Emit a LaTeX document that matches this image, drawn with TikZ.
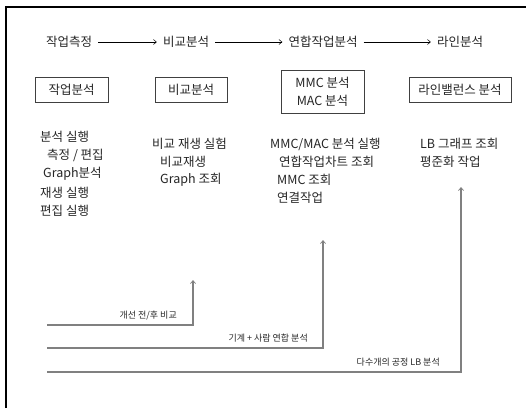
\documentclass[tikz,border=0pt]{standalone}
\usepackage{fontspec}
\setmainfont{Noto Sans CJK KR}
\usetikzlibrary{arrows.meta}
\begin{document}
\begin{tikzpicture}[x=1pt,y=-1pt,
  every node/.style={font=\fontsize{12.5}{15}\selectfont, inner sep=0pt, text=black!85},
  hdr/.style={anchor=center},
  boxn/.style={draw=black!75, line width=0.6pt, inner xsep=6pt, inner ysep=4pt, align=center},
  item/.style={anchor=west},
  flow/.style={draw=black, line width=0.5pt, -{Straight Barb[length=3pt,width=5pt]}},
  feed/.style={draw=black!50, line width=1.1pt, -{Straight Barb[length=3pt,width=5pt,line width=0.7pt]}},
  lbl/.style={anchor=base east, font=\fontsize{9}{11}\selectfont}]
\useasboundingbox (0,0) rectangle (526,408);
\fill[white] (0,0) rectangle (526,408);
\draw[line width=1.8pt, black] (6,408) -- (6,7) -- (526,7);

% header row
\node[hdr] (h1) at (69,42) {작업측정};
\node[hdr] (h2) at (186,42) {비교분석};
\node[hdr] (h3) at (323,42) {연합작업분석};
\node[hdr] (h4) at (460,42) {라인분석};
\draw[flow] ([xshift=6pt]h1.east) -- ([xshift=-6pt]h2.west);
\draw[flow] ([xshift=6pt]h2.east) -- ([xshift=-6pt]h3.west);
\draw[flow] ([xshift=6pt]h3.east) -- ([xshift=-6pt]h4.west);

% boxes
\node[boxn, minimum width=73pt, minimum height=25pt] (b1) at (71.5,89.5) {작업분석};
\node[boxn, minimum width=72pt, minimum height=25pt] (b2) at (191,89.5) {비교분석};
\node[boxn, minimum width=83pt, minimum height=43pt] (b3) at (322.5,91.5) {MMC 분석\\[3pt]MAC 분석};
\node[boxn, minimum width=102pt, minimum height=25pt] (b4) at (460,89.5) {라인밸런스 분석};

% lists
\node[item] (l11) at (40,137) {분석 실행};
\node[item] (l12) at (47,155.5) {측정 / 편집};
\node[item] (l13) at (43,174) {Graph분석};
\node[item] (l14) at (40,192.5) {재생 실행};
\node[item] (l15) at (40,211) {편집 실행};

\node[item] (l21) at (152,144) {비교 재생 실험};
\node[item] (l22) at (160,162) {비교재생};
\node[item] (l23) at (160,180) {Graph 조회};

\node[item] (l31) at (270,144) {MMC/MAC 분석 실행};
\node[item] (l32) at (279,162) {연합작업차트 조회};
\node[item] (l33) at (277,180) {MMC 조회};
\node[item] (l34) at (277,198) {연결작업};

\node[item] (l41) at (420,144) {LB 그래프 조회};
\node[item] (l42) at (420,162) {평준화 작업};

% feedback lines
\coordinate (s1) at (47,325);
\coordinate (t1) at (193,280);
\coordinate (s2) at (47,348);
\coordinate (t2) at (323,240);
\coordinate (s3) at (47,372);
\coordinate (t3) at (461,187);
\draw[feed] (s1) -| (t1);
\draw[feed] (s2) -| (t2);
\draw[feed] (s3) -| (t3);
\node[lbl] (c1) at (177,318) {개선 전/후 비교};
\node[lbl] (c2) at (308,341) {기계 + 사람 연합 분석};
\node[lbl] (c3) at (440,365) {다수개의 공정 LB 분석};
\end{tikzpicture}
\end{document}
